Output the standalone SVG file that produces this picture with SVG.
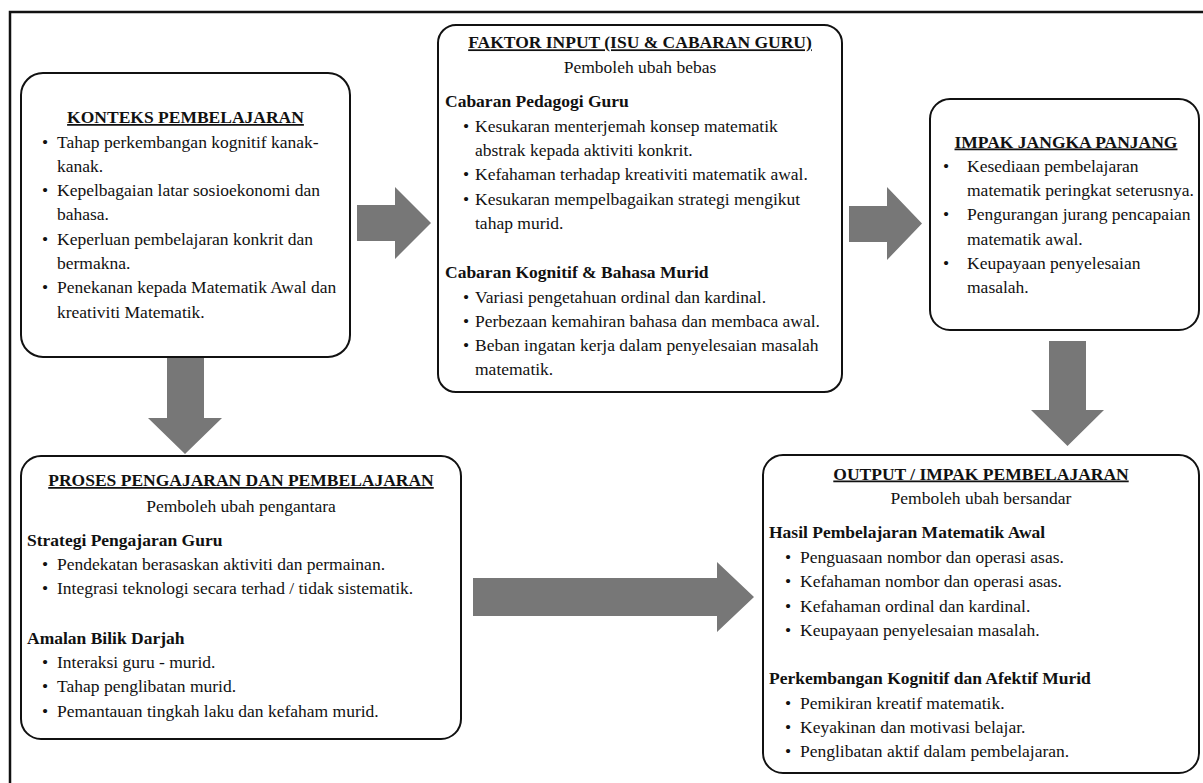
<svg xmlns="http://www.w3.org/2000/svg" width="1203" height="783" viewBox="0 0 1203 783">
<style>
text{font-family:"Liberation Serif","Times New Roman",serif;font-size:17.5px;fill:#111}
.t{font-weight:bold;text-decoration:underline;text-anchor:middle}
.s{text-anchor:middle}
.h{font-weight:bold}
.box{fill:#fff;stroke:#111;stroke-width:2}
.arr{fill:#777777}
</style>
<rect x="10" y="12" width="1200" height="780" fill="#fff" stroke="#111" stroke-width="2.5"/>

<g id="connectors">
<polygon class="arr" points="357,205 395,205 395,187 431,223 395,259 395,241 357,241"/>
<polygon class="arr" points="849,206 887,206 887,187 922,223.5 887,260 887,242 849,242"/>
<polygon class="arr" points="167,357 204,357 204,418 222,418 185,454 148,418 167,418"/>
<polygon class="arr" points="1049,341 1086,341 1086,410 1104,410 1067.5,446 1031,410 1049,410"/>
<polygon class="arr" points="473,578 717,578 717,562 754,597 717,632 717,616 473,616"/>
</g>

<g id="konteks">
<rect class="box" x="21" y="73" width="329" height="284" rx="22"/>
<text class="t" x="185.5" y="123">KONTEKS PEMBELAJARAN</text>
<text x="42" y="147.5">•</text><text x="57" y="147.5">Tahap perkembangan kognitif kanak-</text>
<text x="57" y="171.8">kanak.</text>
<text x="42" y="196.1">•</text><text x="57" y="196.1">Kepelbagaian latar sosioekonomi dan</text>
<text x="57" y="220.4">bahasa.</text>
<text x="42" y="244.7">•</text><text x="57" y="244.7">Keperluan pembelajaran konkrit dan</text>
<text x="57" y="269">bermakna.</text>
<text x="42" y="293.3">•</text><text x="57" y="293.3">Penekanan kepada Matematik Awal dan</text>
<text x="57" y="317.6">kreativiti Matematik.</text>
</g>

<g id="faktor-input">
<rect class="box" x="438" y="25" width="404" height="367" rx="18"/>
<text class="t" x="640" y="48.3">FAKTOR INPUT (ISU &amp; CABARAN GURU)</text>
<text class="s" x="640" y="72.7">Pemboleh ubah bebas</text>
<text class="h" x="445" y="106.7">Cabaran Pedagogi Guru</text>
<text x="463" y="131.7">•</text><text x="475" y="131.7">Kesukaran menterjemah konsep matematik</text>
<text x="475" y="156">abstrak kepada aktiviti konkrit.</text>
<text x="463" y="180.3">•</text><text x="475" y="180.3">Kefahaman terhadap kreativiti matematik awal.</text>
<text x="463" y="204.6">•</text><text x="475" y="204.6">Kesukaran mempelbagaikan strategi mengikut</text>
<text x="475" y="228.9">tahap murid.</text>
<text class="h" x="445" y="278">Cabaran Kognitif &amp; Bahasa Murid</text>
<text x="463" y="302.5">•</text><text x="475" y="302.5">Variasi pengetahuan ordinal dan kardinal.</text>
<text x="463" y="326.8">•</text><text x="475" y="326.8">Perbezaan kemahiran bahasa dan membaca awal.</text>
<text x="463" y="351.1">•</text><text x="475" y="351.1">Beban ingatan kerja dalam penyelesaian masalah</text>
<text x="475" y="375.4">matematik.</text>
</g>

<g id="impak-jangka-panjang">
<rect class="box" x="930" y="99" width="269" height="231" rx="20"/>
<text class="t" x="1066" y="147.5">IMPAK JANGKA PANJANG</text>
<text x="943" y="171.8">•</text><text x="967" y="171.8">Kesediaan pembelajaran</text>
<text x="967" y="196.1">matematik peringkat seterusnya.</text>
<text x="943" y="220.4">•</text><text x="967" y="220.4">Pengurangan jurang pencapaian</text>
<text x="967" y="244.7">matematik awal.</text>
<text x="943" y="269">•</text><text x="967" y="269">Keupayaan penyelesaian</text>
<text x="967" y="293.3">masalah.</text>
</g>

<g id="proses">
<rect class="box" x="21" y="456" width="440" height="283" rx="20"/>
<text class="t" x="241" y="486">PROSES PENGAJARAN DAN PEMBELAJARAN</text>
<text class="s" x="241" y="511.5">Pemboleh ubah pengantara</text>
<text class="h" x="27" y="546">Strategi Pengajaran Guru</text>
<text x="42" y="570">•</text><text x="57" y="570">Pendekatan berasaskan aktiviti dan permainan.</text>
<text x="42" y="594.3">•</text><text x="57" y="594.3">Integrasi teknologi secara terhad / tidak sistematik.</text>
<text class="h" x="27" y="644">Amalan Bilik Darjah</text>
<text x="42" y="668">•</text><text x="57" y="668">Interaksi guru - murid.</text>
<text x="42" y="692.3">•</text><text x="57" y="692.3">Tahap penglibatan murid.</text>
<text x="42" y="716.6">•</text><text x="57" y="716.6">Pemantauan tingkah laku dan kefaham murid.</text>
</g>

<g id="output">
<rect class="box" x="763" y="455" width="436" height="318" rx="20"/>
<text class="t" x="981" y="479.5">OUTPUT / IMPAK PEMBELAJARAN</text>
<text class="s" x="981" y="503.5">Pemboleh ubah bersandar</text>
<text class="h" x="769" y="537.5">Hasil Pembelajaran Matematik Awal</text>
<text x="785" y="563">•</text><text x="800" y="563">Penguasaan nombor dan operasi asas.</text>
<text x="785" y="587.3">•</text><text x="800" y="587.3">Kefahaman nombor dan operasi asas.</text>
<text x="785" y="611.6">•</text><text x="800" y="611.6">Kefahaman ordinal dan kardinal.</text>
<text x="785" y="635.9">•</text><text x="800" y="635.9">Keupayaan penyelesaian masalah.</text>
<text class="h" x="769" y="684">Perkembangan Kognitif dan Afektif Murid</text>
<text x="785" y="708.5">•</text><text x="800" y="708.5">Pemikiran kreatif matematik.</text>
<text x="785" y="732.8">•</text><text x="800" y="732.8">Keyakinan dan motivasi belajar.</text>
<text x="785" y="757.1">•</text><text x="800" y="757.1">Penglibatan aktif dalam pembelajaran.</text>
</g>
</svg>
